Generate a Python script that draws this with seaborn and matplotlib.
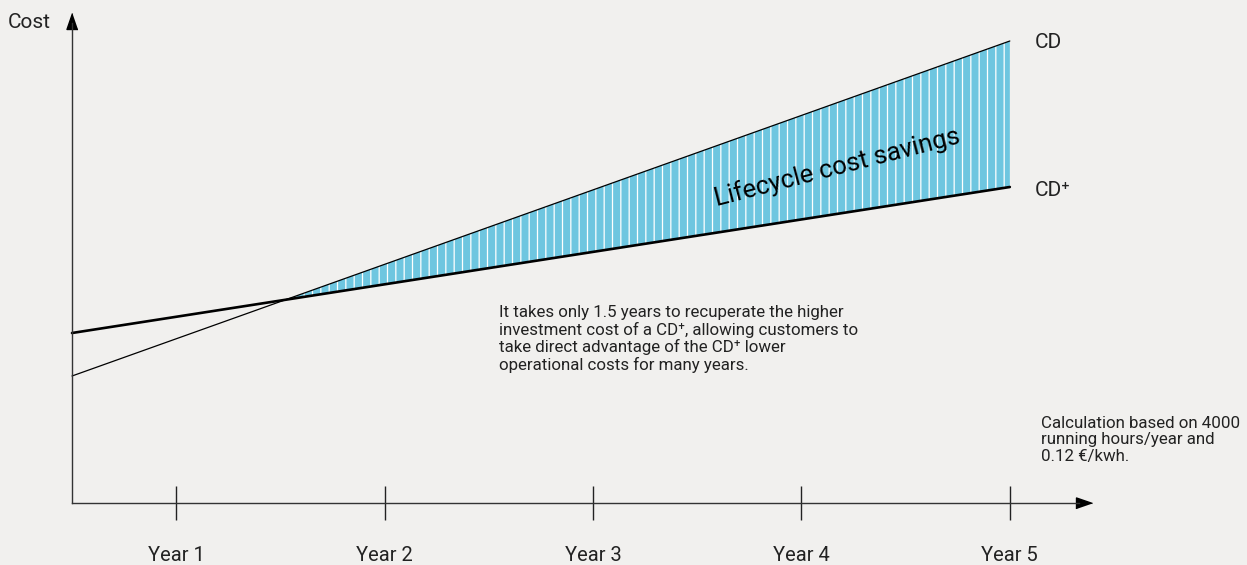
import numpy as np
import pandas as pd
import seaborn as sns
import matplotlib.pyplot as plt

# Datos (coste en unidades arbitrarias)
anios = [0.5, 5.0]
coste_cd = [1.27, 4.62]
coste_cd_plus = [1.70, 3.16]
ticks_anios = [1, 2, 3, 4, 5]
etiquetas_anios = ["Year 1", "Year 2", "Year 3", "Year 4", "Year 5"]

fondo = "#f1f0ee"
azul = "#6ec6e0"
texto = "#222222"

sns.set_theme(style="white")
plt.rcParams["font.family"] = ["Roboto", "DejaVu Sans"]
plt.rcParams["hatch.linewidth"] = 0.9

df = pd.DataFrame({"anio": anios, "CD": coste_cd, "CD+": coste_cd_plus})

fig = plt.figure(figsize=(12.47, 5.65), dpi=100, facecolor=fondo)
ax = fig.add_axes([0, 0, 1, 1], facecolor=fondo)
ax.set_xlim(0.1545, 6.138)
ax.set_ylim(-0.62, 5.03)

# Area de ahorro
cd = np.array(coste_cd)
cdp = np.array(coste_cd_plus)
ax.fill_between(df["anio"], cd, cdp, where=cd > cdp, interpolate=True,
                facecolor=azul, edgecolor="white", hatch="||", linewidth=0)

sns.lineplot(data=df, x="anio", y="CD", color="black", linewidth=0.9, ax=ax)
sns.lineplot(data=df, x="anio", y="CD+", color="black", linewidth=1.9, ax=ax)

# Ejes con flechas
for lado in ["top", "right"]:
    ax.spines[lado].set_visible(False)
ax.spines["left"].set_position(("data", 0.5))
ax.spines["bottom"].set_position(("data", 0))
ax.spines["left"].set_bounds(0, 4.8)
ax.spines["bottom"].set_bounds(0.5, 5.33)
for lado in ["left", "bottom"]:
    ax.spines[lado].set_color("#333333")
    ax.spines[lado].set_linewidth(1.0)

flecha_x = [(1, 0), (-1, 0.69), (-1, -0.69)]
flecha_y = [(0, 1), (-0.69, -1), (0.69, -1)]
ax.plot([5.356], [0], marker=flecha_x, markersize=11.5, color="black", clip_on=False)
ax.plot([0.5], [4.82], marker=flecha_y, markersize=11.5, color="black", clip_on=False)

ax.set_xticks(ticks_anios)
ax.set_xticklabels(etiquetas_anios, fontsize=14.5, color=texto)
ax.set_yticks([])
ax.tick_params(axis="x", direction="inout", length=24.5, width=1.0,
               color="#222222", pad=19, bottom=True)
ax.set_xlabel("")
ax.set_ylabel("")

# Textos
ax.text(0.193, 4.81, "Cost", fontsize=15, color=texto, ha="left", va="center")
ax.text(5.12, 4.61, "CD", fontsize=15, color=texto, ha="left", va="center")
ax.text(5.12, 3.12, "CD⁺", fontsize=15, color=texto, ha="left", va="center")
ax.text(4.17, 3.36, "Lifecycle cost savings", fontsize=18.5, color="black",
        ha="center", va="center", rotation=14.5, rotation_mode="anchor")
ax.text(2.549, 1.98,
        "It takes only 1.5 years to recuperate the higher\n"
        "investment cost of a CD⁺, allowing customers to\n"
        "take direct advantage of the CD⁺ lower\n"
        "operational costs for many years.",
        fontsize=12.2, color=texto, ha="left", va="top", linespacing=1.12)
ax.text(5.15, 0.87,
        "Calculation based on 4000\nrunning hours/year and\n0.12 €/kwh.",
        fontsize=12.2, color=texto, ha="left", va="top", linespacing=1.12)

fig.savefig("out.png", dpi=100, facecolor=fondo)
